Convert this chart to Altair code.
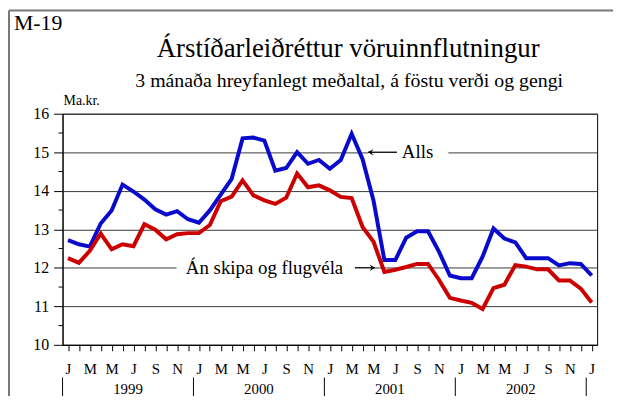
import altair as alt
import pandas as pd

# ---- data -------------------------------------------------------------
months = [f"{y}-{m:02d}" for y in range(1999, 2003) for m in range(1, 13)] + ["2003-01"]

alls = [
    12.72, 12.61, 12.55, 13.15, 13.49, 14.16, 13.98, 13.77, 13.52, 13.38, 13.47, 13.26,
    13.17, 13.49, 13.90, 14.31, 15.36, 15.38, 15.30, 14.52, 14.59, 15.00, 14.70, 14.80,
    14.57, 14.80, 15.48, 14.82, 13.75, 12.20, 12.20, 12.78, 12.95, 12.95, 12.42, 11.80,
    11.73, 11.73, 12.29, 13.02, 12.76, 12.66, 12.25, 12.25, 12.25, 12.06, 12.12, 12.10,
    11.80,
]
an_skipa = [
    12.25, 12.13, 12.44, 12.89, 12.48, 12.61, 12.56, 13.13, 12.99, 12.74, 12.87, 12.90,
    12.90, 13.11, 13.73, 13.85, 14.27, 13.88, 13.75, 13.66, 13.82, 14.45, 14.09, 14.14,
    14.01, 13.84, 13.81, 13.06, 12.68, 11.89, 11.95, 12.02, 12.10, 12.10, 11.69, 11.22,
    11.15, 11.09, 10.93, 11.47, 11.56, 12.07, 12.03, 11.96, 11.96, 11.67, 11.67, 11.46,
    11.10,
]
series_names = ["Alls", "Án skipa og flugvéla"]
series_colors = ["#0a0acc", "#cc0000"]
month_letters = ["J", "F", "M", "A", "M", "J", "J", "A", "S", "O", "N", "D"]
years = ["1999", "2000", "2001", "2002"]
y_ticks = [10, 11, 12, 13, 14, 15, 16]
y_minor = [10.5, 11.5, 12.5, 13.5, 14.5, 15.5]

W, H = 539, 233
FONT = "Liberation Serif"

idx = list(range(len(months)))
df = pd.DataFrame({"i": idx + idx,
                   "month": months + months,
                   "value": alls + an_skipa,
                   "series": [series_names[0]] * len(idx) + [series_names[1]] * len(idx)})

xscale = alt.Scale(domain=[-0.5, len(months) - 0.5], nice=False, zero=False)
yscale = alt.Scale(domain=[10, 16], nice=False, zero=False)

letters = "".join(month_letters)
x_axis = alt.Axis(values=idx, tickSize=6, tickColor="black", domainColor="black",
                  labelExpr=f"datum.value % 2 == 0 ? substring('{letters}', datum.value % 12, datum.value % 12 + 1) : ''",
                  labelOverlap=False, labelFlush=False, labelFont=FONT, labelFontSize=15,
                  labelColor="black", labelPadding=11, grid=False, title=None)
y_axis = alt.Axis(values=y_ticks, tickSize=9, tickColor="black", domainColor="black",
                  labelFont=FONT, labelFontSize=16, labelColor="black", labelPadding=5,
                  grid=True, gridColor="#3a3a3a", gridWidth=1, title=None, format="d")


def X(field):
    return alt.X(field, scale=xscale, axis=x_axis)


def Y(field):
    return alt.Y(field, scale=yscale, axis=y_axis)


lines = alt.Chart(df).mark_line(strokeWidth=4).encode(
    x=X("i:Q"),
    y=Y("value:Q"),
    color=alt.Color("series:N", scale=alt.Scale(domain=series_names, range=series_colors), legend=None),
    detail="series:N",
)

# minor y ticks
minor = alt.Chart(pd.DataFrame({"v": y_minor})).mark_rule(color="black").encode(
    y=Y("v:Q"), x=alt.value(-4), x2=alt.value(0))

# year labels and separators
year_df = pd.DataFrame({"year": years, "c": [12 * k + 5.5 for k in range(len(years))]})
year_text = alt.Chart(year_df).mark_text(font=FONT, fontSize=15, color="black").encode(
    x=X("c:Q"), y=alt.value(278), text="year:N")
sep_df = pd.DataFrame({"s": [12 * k - 0.5 for k in range(len(years) + 1)]})
seps = alt.Chart(sep_df).mark_rule(color="black").encode(
    x=X("s:Q"), y=alt.value(266), y2=alt.value(286))

# annotations (label anchor positions in data coordinates)
ann = pd.DataFrame({
    "label": series_names,
    "tx": [30.6, 10.8],
    "ty": [15.0, 12.0],
    "bx1": [27.5, 9.95],
    "bx2": [34.86, 28.1],
    "by1": [14.78, 11.75],
    "by2": [15.22, 12.25],
    "ax1": [30.15, 26.3],
    "ax2": [27.5, 28.14],
    "ang": [0, 180],
})
boxes = alt.Chart(ann).mark_rect(color="white").encode(
    x=X("bx1:Q"), x2="bx2:Q", y=Y("by1:Q"), y2="by2:Q")
arrow_lines = alt.Chart(ann).mark_rule(color="black", strokeWidth=1.3).encode(
    x=X("ax1:Q"), x2="ax2:Q", y=Y("ty:Q"))
arrow_shape = "M 0 0 L 1.6 -1 L 1 0 L 1.6 1 Z"
arrow_heads = alt.Chart(ann).mark_point(shape=arrow_shape, filled=True, color="black",
                                        size=45, opacity=1).encode(
    x=X("ax2:Q"), y=Y("ty:Q"), angle=alt.Angle("ang:Q", scale=None))
ann_text = alt.Chart(ann).mark_text(font=FONT, fontSize=19, color="black", align="left",
                                    baseline="middle").encode(
    x=X("tx:Q"), y=Y("ty:Q"), text="label:N")


# titles
def txt(s, x, y, size, align="left"):
    return alt.Chart(pd.DataFrame({"t": [s]})).mark_text(
        font=FONT, fontSize=size, color="black", align=align, baseline="middle").encode(
        x=alt.value(x), y=alt.value(y), text="t:N")


t_code = txt("M-19", -49, -91, 22)
t_title = txt("Árstíðarleiðréttur vöruinnflutningur", 288, -65, 27, "center")
t_sub = txt("3 mánaða hreyfanlegt meðaltal, á föstu verði og gengi", 289, -33, 20, "center")
t_unit = txt("Ma.kr.", 1, -13, 14)

# outer frame (left and top edges)
frame_left = alt.Chart(pd.DataFrame({"a": [0]})).mark_rule(color="#777", strokeWidth=2).encode(
    x=alt.value(-54), y=alt.value(-104), y2=alt.value(H + 60))
frame_top = alt.Chart(pd.DataFrame({"a": [0]})).mark_rule(color="#777", strokeWidth=2).encode(
    x=alt.value(-54), x2=alt.value(W + 30), y=alt.value(-104))

chart = alt.layer(
    lines, boxes, minor, seps, year_text, arrow_lines, arrow_heads, ann_text,
    t_code, t_title, t_sub, t_unit, frame_left, frame_top,
).properties(
    width=W, height=H,
    background="white",
    autosize=alt.AutoSizeParams(type="none"),
    padding={"left": 55, "top": 105, "right": 16, "bottom": 50},
).configure_view(stroke="black", strokeWidth=1)

chart.save("out.html", embed_options={"renderer": "svg", "actions": False})
